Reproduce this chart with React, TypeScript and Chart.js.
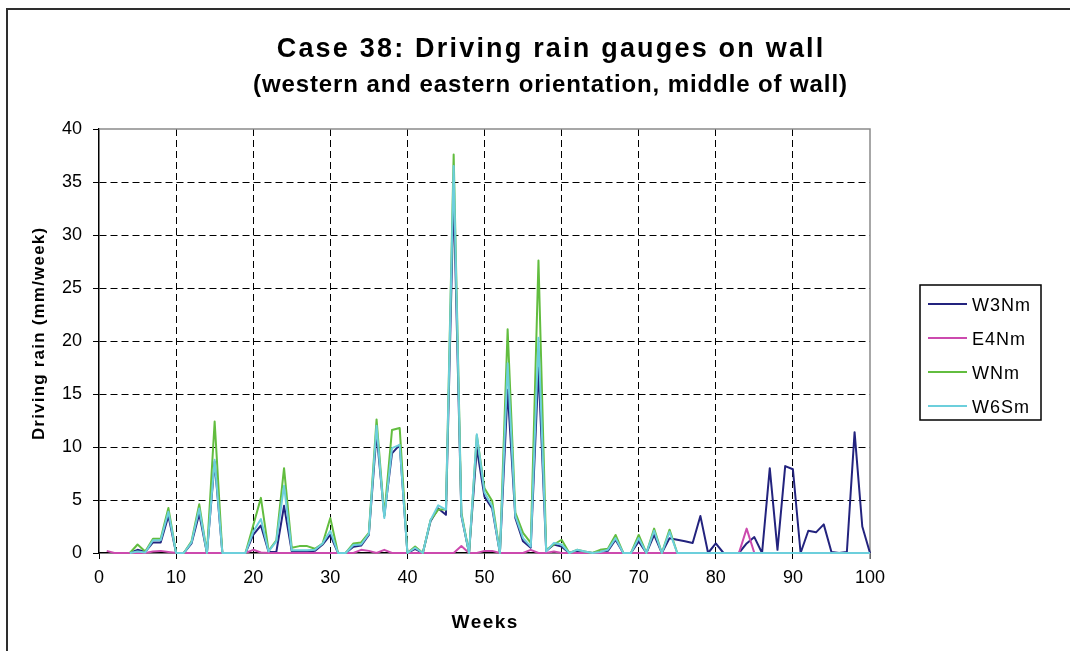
import React, { useEffect, useRef } from "react";
import { Chart, registerables } from "chart.js";

Chart.register(...registerables);

const weeks = [
  1, 2, 3, 4, 5, 6, 7, 8, 9, 10,
  11, 12, 13, 14, 15, 16, 17, 18, 19, 20,
  21, 22, 23, 24, 25, 26, 27, 28, 29, 30,
  31, 32, 33, 34, 35, 36, 37, 38, 39, 40,
  41, 42, 43, 44, 45, 46, 47, 48, 49, 50,
  51, 52, 53, 54, 55, 56, 57, 58, 59, 60,
  61, 62, 63, 64, 65, 66, 67, 68, 69, 70,
  71, 72, 73, 74, 75, 76, 77, 78, 79, 80,
  81, 82, 83, 84, 85, 86, 87, 88, 89, 90,
  91, 92, 93, 94, 95, 96, 97, 98, 99, 100,
];

const w3nm = [
  null, null, null, 0, 0.3, 0.1, 1.0, 1.0, 3.5, 0,
  0, 0.9, 3.7, 0, 8.6, 0, 0, 0, 0, 1.7,
  2.6, 0.1, 0.1, 4.45, 0.15, 0.1, 0.1, 0.2, 0.8, 1.7,
  0, 0, 0.6, 0.7, 1.7, 11.3, 3.5, 9.4, 10.2, 0,
  0.4, 0, 3.0, 4.2, 3.6, 34.0, 3.5, 0, 9.9, 5.3,
  4.2, 0, 15.4, 3.3, 1.1, 0.5, 17.5, 0.2, 0.8, 0.6,
  0, 0.2, 0.1, 0, 0.1, 0.2, 1.25, 0, 0, 1.1,
  0, 1.7, 0, 1.4, 1.25, 1.1, 0.95, 3.5, 0, 0.9,
  0, 0, 0, 0.9, 1.5, 0, 8.0, 0.3, 8.2, 7.9,
  0, 2.1, 1.95, 2.7, 0.1, 0, 0.1, 11.4, 2.5, 0,
];

const e4nm = [
  0.2, 0, 0, 0, 0, 0, 0.15, 0.2, 0.1, 0,
  0, 0, 0, 0, 0, 0, 0, 0, 0, 0.3,
  0.05, 0, 0, 0, 0, 0, 0, 0, 0, 0,
  0, 0, 0, 0.3, 0.2, 0, 0.3, 0, 0, 0,
  0, 0, 0, 0, 0, 0, 0.65, 0, 0, 0.2,
  0.2, 0, 0, 0, 0, 0.3, 0, 0, 0.15, 0,
  0, 0, 0, 0, 0, 0, 0, 0, 0, 0,
  0, 0, 0, 0, 0, 0, 0, 0, 0, 0,
  0, 0, 0, 2.3, 0, 0, 0, 0, 0, 0,
  0, 0, 0, 0, 0, 0, 0, 0, 0, 0,
];

const wnm = [
  null, null, null, 0, 0.8, 0.15, 1.35, 1.35, 4.25, 0,
  0, 1.1, 4.6, 0, 12.4, 0, 0, 0, 0, 2.6,
  5.2, 0.2, 1.2, 8.0, 0.5, 0.65, 0.65, 0.4, 0.9, 3.3,
  0, 0, 0.9, 1.0, 1.9, 12.6, 3.5, 11.6, 11.8, 0,
  0.6, 0, 3.1, 4.1, 4.1, 37.6, 3.8, 0, 11.1, 6.1,
  4.9, 0, 21.1, 3.8, 1.9, 0.95, 27.6, 0.3, 0.8, 1.25,
  0, 0.3, 0.15, 0, 0.3, 0.4, 1.7, 0, 0, 1.7,
  0, 2.3, 0, 2.2, 0, 0, 0, 0, 0, 0,
  0, 0, 0, 0, 0, 0, 0, 0, 0, 0,
  0, 0, 0, 0, 0, 0, 0, 0, 0, 0,
];

const w6sm = [
  null, null, null, 0, 0.15, 0.05, 1.2, 1.2, 3.9, 0,
  0, 1.0, 4.2, 0, 8.8, 0, 0, 0, 0, 2.0,
  3.2, 0.15, 1.1, 6.35, 0.25, 0.25, 0.25, 0.3, 0.9, 2.1,
  0, 0, 0.75, 0.8, 1.8, 12.0, 3.3, 9.9, 10.2, 0,
  0.5, 0, 3.1, 4.5, 4.1, 36.5, 3.6, 0, 11.2, 5.7,
  4.4, 0, 17.9, 3.5, 1.4, 0.6, 20.3, 0.15, 0.95, 0.8,
  0, 0.3, 0.15, 0, 0.1, 0.3, 1.4, 0, 0, 1.4,
  0, 2.1, 0, 2.0, 0, 0, 0, 0, 0, 0,
  0, 0, 0, 0, 0, 0, 0, 0, 0, 0,
  0, 0, 0, 0, 0, 0, 0, 0, 0, 0,
];

const seriesNames = ["W3Nm", "E4Nm", "WNm", "W6Sm"];
const seriesValues = [w3nm, e4nm, wnm, w6sm];
const seriesColors = ["#23237e", "#cc4aae", "#62bd3f", "#6ccfdc"];

const titleText = "Case 38: Driving rain gauges on wall";
const subtitleText = "(western and eastern orientation, middle of wall)";
const xTitleText = "Weeks";
const yTitleText = "Driving rain (mm/week)";

const FONT = "'Liberation Sans', Arial, sans-serif";

function drawText(
  ctx: CanvasRenderingContext2D,
  text: string,
  x: number,
  y: number,
  font: string,
  ls: number,
  align: CanvasTextAlign,
  baseline: CanvasTextBaseline = "alphabetic"
) {
  ctx.save();
  ctx.font = font;
  (ctx as any).letterSpacing = ls + "px";
  ctx.textAlign = align;
  ctx.textBaseline = baseline;
  ctx.fillStyle = "#000";
  ctx.fillText(text, x + (align === "center" ? ls / 2 : 0), y);
  ctx.restore();
}

const decor = {
  id: "decor",
  beforeDatasetsDraw(chart: any) {
    const { ctx, chartArea: a } = chart;
    ctx.save();
    ctx.strokeStyle = "#8a8a8a";
    ctx.lineWidth = 1.5;
    ctx.beginPath();
    ctx.moveTo(a.left, a.top);
    ctx.lineTo(a.right, a.top);
    ctx.lineTo(a.right, a.bottom + 6);
    ctx.stroke();
    ctx.restore();
  },
  afterDraw(chart: any) {
    const { ctx, chartArea: a } = chart;
    // outer chart border (top and left)
    ctx.save();
    ctx.strokeStyle = "#2e2e2e";
    ctx.lineWidth = 2;
    ctx.beginPath();
    ctx.moveTo(7, 651);
    ctx.lineTo(7, 9);
    ctx.lineTo(1070, 9);
    ctx.stroke();
    ctx.restore();

    // titles
    drawText(ctx, titleText, 550, 57, `bold 27px ${FONT}`, 2.2, "center");
    drawText(ctx, subtitleText, 550, 92, `bold 24px ${FONT}`, 0.9, "center");

    // axis titles
    drawText(ctx, xTitleText, (a.left + a.right) / 2, 628, `bold 19px ${FONT}`, 1.5, "center");
    ctx.save();
    ctx.translate(39, 334);
    ctx.rotate(-Math.PI / 2);
    drawText(ctx, yTitleText, 0, 0, `bold 17px ${FONT}`, 1.2, "center", "middle");
    ctx.restore();

    // legend
    const lx = 920, ly = 285, lw = 121, lh = 135;
    ctx.save();
    ctx.strokeStyle = "#000";
    ctx.lineWidth = 1.5;
    ctx.strokeRect(lx, ly, lw, lh);
    ctx.restore();
    const rows = [304, 338, 372, 406];
    seriesNames.forEach((name, i) => {
      const cy = rows[i];
      ctx.save();
      ctx.strokeStyle = seriesColors[i];
      ctx.lineWidth = 2;
      ctx.beginPath();
      ctx.moveTo(928, cy);
      ctx.lineTo(967, cy);
      ctx.stroke();
      ctx.restore();
      drawText(ctx, name, 972, cy + 6.5, `18px ${FONT}`, 1, "left");
    });
  },
};

export default function App() {
  const ref = useRef<HTMLCanvasElement>(null);

  useEffect(() => {
    document.body.style.margin = "0";
    const canvas = ref.current;
    if (!canvas) return;
    const orders = [3, 2, 1, 0];
    const chart = new Chart(canvas, {
      type: "line",
      data: {
        datasets: seriesNames.map((name, i) => ({
          label: name,
          data: weeks.map((w, j) => ({ x: w, y: seriesValues[i][j] })),
          borderColor: seriesColors[i],
          backgroundColor: seriesColors[i],
          borderWidth: 2,
          borderJoinStyle: "round" as const,
          pointRadius: 0,
          pointHoverRadius: 0,
          tension: 0,
          fill: false,
          spanGaps: false,
          clip: false as any,
          order: orders[i],
        })),
      },
      options: {
        responsive: false,
        animation: false,
        devicePixelRatio: 1,
        events: [],
        layout: { padding: { left: 0, top: 129, right: 200, bottom: 0 } },
        plugins: {
          legend: { display: false },
          title: { display: false },
          tooltip: { enabled: false },
        },
        scales: {
          x: {
            type: "linear",
            min: 0,
            max: 100,
            afterFit: (s: any) => {
              s.height = 98;
            },
            ticks: {
              stepSize: 10,
              padding: 8,
              maxRotation: 0,
              color: "#000",
              font: { family: FONT, size: 18 },
            },
            grid: {
              color: (c: any) =>
                c.tick && (c.tick.value === 0 || c.tick.value === 100) ? "rgba(0,0,0,0)" : "#000",
              lineWidth: 1,
              tickLength: 6,
              tickColor: "#000",
              tickBorderDash: [],
            } as any,
            border: { display: true, color: "#000", width: 1.5, dash: [7, 4] } as any,
          },
          y: {
            type: "linear",
            min: 0,
            max: 40,
            afterFit: (s: any) => {
              s.width = 99;
            },
            ticks: {
              stepSize: 5,
              padding: 11,
              color: "#000",
              font: { family: FONT, size: 18 },
            },
            grid: {
              color: (c: any) =>
                c.tick && (c.tick.value === 0 || c.tick.value === 40) ? "rgba(0,0,0,0)" : "#000",
              lineWidth: 1,
              tickLength: 6,
              tickColor: "#000",
              tickBorderDash: [],
            } as any,
            border: { display: true, color: "#000", width: 1.5, dash: [7, 4] } as any,
          },
        },
      },
      plugins: [decor],
    });
    return () => chart.destroy();
  }, []);

  return (
    <div style={{ width: 1070, height: 651, position: "relative" }}>
      <canvas ref={ref} width={1070} height={651} style={{ display: "block" }} />
    </div>
  );
}
